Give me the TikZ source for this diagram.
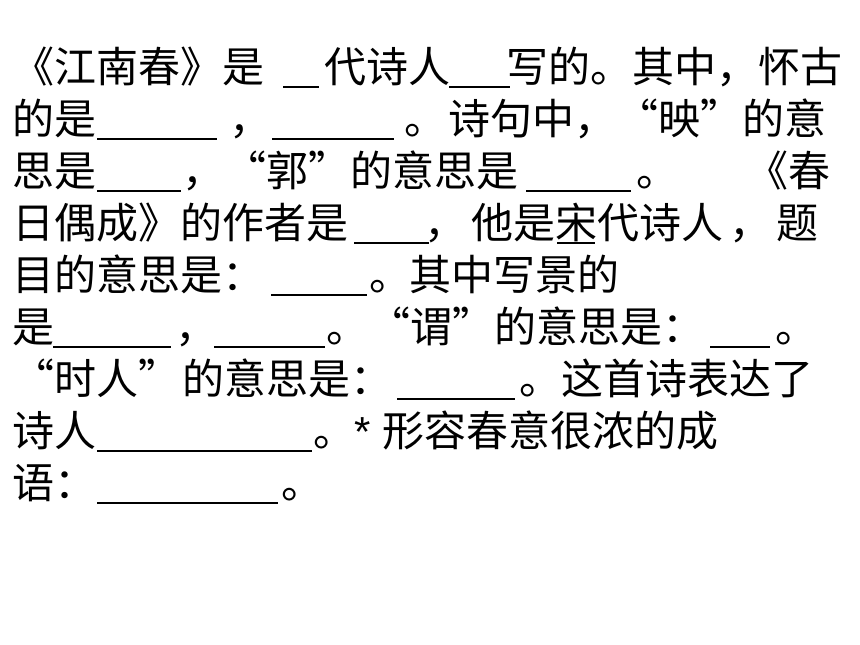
\documentclass[tikz,border=0pt]{standalone}
\usepackage{fontspec}
\setmainfont{Noto Sans CJK SC}
\newfontfamily\latsans{Liberation Sans}
\newcommand\seg[2]{\makebox[0pt][l]{\hspace*{#1pt}#2}}
\newcommand\bl[1]{\rule[-6pt]{#1pt}{2pt}}
\tikzset{
  textline/.style={anchor=base west, inner sep=0pt, outer sep=0pt,
    font=\fontsize{42pt}{52pt}\selectfont, text=black}
}
\begin{document}
\begin{tikzpicture}[x=1pt,y=1pt]
\useasboundingbox (0,0) rectangle (860,-645);
\fill[white] (0,0) rectangle (860,-645);
\node[textline] (l1) at (0,-82) {\seg{12}{《江南春》是}\seg{283}{\bl{36}}\seg{324}{代诗人}\seg{449}{\bl{61}}\seg{506}{写的。其中，怀古}};
\node[textline] (l2) at (0,-134) {\seg{12}{的是}\seg{97}{\bl{120}}\seg{229}{，}\seg{272}{\bl{122}}\seg{404}{。}\seg{448}{诗句中，“映”的意}};
\node[textline] (l3) at (0,-186) {\seg{12}{思是}\seg{97}{\bl{84}}\seg{182}{，}\seg{224}{“郭”的意思是}\seg{526}{\bl{105}}\seg{636}{。}\seg{746}{《春}};
\node[textline] (l4) at (0,-238) {\seg{12}{日偶成》的作者是}\seg{354}{\bl{75}}\seg{424}{，}\seg{471}{他是宋代诗人}\seg{557}{\bl{38}}\seg{729}{，}\seg{776}{题}};
\node[textline] (l5) at (0,-290) {\seg{12}{目的意思是：}\seg{271}{\bl{96}}\seg{369}{。}\seg{409}{其中写景的}};
\node[textline] (l6) at (0,-342) {\seg{12}{是}\seg{53}{\bl{118}}\seg{175}{，}\seg{214}{\bl{111}}\seg{326}{。}\seg{368}{“谓”的意思是：}\seg{710}{\bl{60}}\seg{775}{。}};
\node[textline] (l7) at (0,-394) {\seg{12}{“时人”}\seg{182}{的意思是：}\seg{397}{\bl{118}}\seg{519}{。}\seg{561}{这首诗表达了}};
\node[textline] (l8) at (0,-446) {\seg{12}{诗人}\seg{97}{\bl{215}}\seg{313}{。}\seg{354}{{\latsans *}}\seg{382}{形容春意很浓的成}};
\node[textline] (l9) at (0,-498) {\seg{12}{语}\seg{54}{：}\seg{97}{\bl{181}}\seg{281}{。}};
\end{tikzpicture}
\end{document}
